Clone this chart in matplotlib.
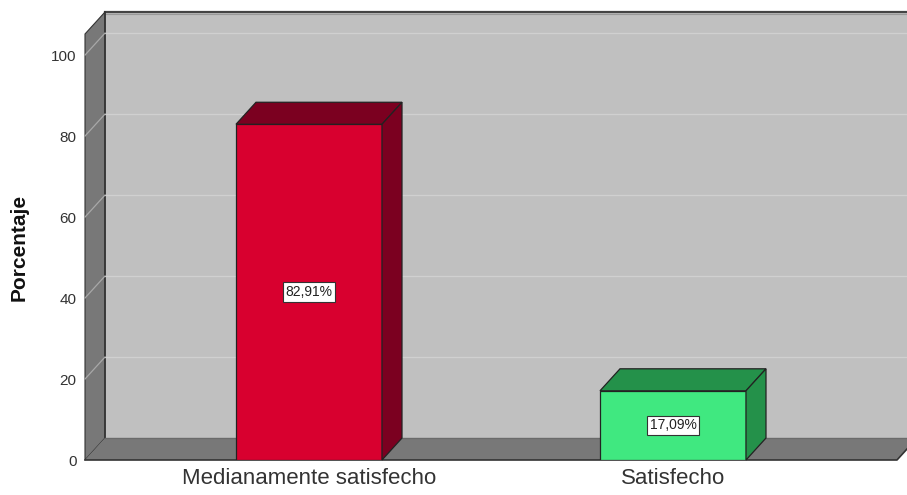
import matplotlib.pyplot as plt
from matplotlib.patches import Polygon

categories = ['Medianamente satisfecho', 'Satisfecho']
percent = [82.91, 17.09]
bar_labels = ['82,91%', '17,09%']
yticks = [0, 20, 40, 60, 80, 100]

front_colors = ['#d8002f', '#40e880']
dark_colors = ['#7b0020', '#24914a']

plt.rcParams['font.family'] = ['Liberation Sans', 'DejaVu Sans']

W, H = 907, 495
fig = plt.figure(figsize=(W / 100, H / 100), dpi=100)
# front plane of the 3d box, in pixels
left, right, bottom, top = 85, 897, 460, 34
ax = fig.add_axes([left / W, 1 - bottom / H, (right - left) / W, (bottom - top) / H])

xpx = 364.0          # pixels per category
x0 = 309             # pixel of first category
ymax = 105.2
xl = (left - x0) / xpx
xr = (right - x0) / xpx
ax.set_xlim(xl, xr)
ax.set_ylim(0, ymax)
ypx = (bottom - top) / ymax

dx = 20 / xpx
dy = 22 / ypx

wall = '#c0c0c0'
side = '#787878'

# back wall
ax.add_patch(Polygon([(xl + dx, dy), (xr + dx + 0.2, dy), (xr + dx + 0.2, ymax + dy), (xl + dx, ymax + dy)],
                     closed=True, fc=wall, ec='none', clip_on=False, zorder=0))
ax.plot([xl + dx, xr + dx + 0.2], [ymax + dy, ymax + dy], color='#444444', lw=1.6, clip_on=False, zorder=1)
ax.plot([xl + dx, xr + dx + 0.2], [ymax + dy - 0.5, ymax + dy - 0.5], color='#999999', lw=0.8, clip_on=False, zorder=1)
# left side wall
ax.add_patch(Polygon([(xl, 0), (xl, ymax), (xl + dx, ymax + dy), (xl + dx, dy)],
                     closed=True, fc=side, ec='#333333', lw=0.8, clip_on=False, zorder=1))
ax.plot([xl + dx, xl + dx], [dy, ymax + dy], color='#333333', lw=1.2, clip_on=False, zorder=1)
# floor
ax.add_patch(Polygon([(xl, 0), (xr, 0), (xr + dx, dy), (xl + dx, dy)],
                     closed=True, fc=side, ec='none', clip_on=False, zorder=1))
ax.plot([xl + dx, xr + dx + 0.2], [dy, dy], color='#6a6a6a', lw=1.0, clip_on=False, zorder=1)
ax.plot([xl, xr, xr + dx], [0, 0, dy], color='#333333', lw=1.2, clip_on=False, zorder=3)

# grid lines on the walls
for v in yticks[1:]:
    ax.plot([xl + dx, xr + dx + 0.2], [v + dy, v + dy], color='#d0d0d0', lw=0.9, clip_on=False, zorder=1)
    ax.plot([xl, xl + dx], [v, v + dy], color='#a8a8a8', lw=0.9, clip_on=False, zorder=2)

# bars
bw = 146 / xpx
xs = list(range(len(categories)))
ax.bar(xs, percent, width=bw, color=front_colors, edgecolor='#222222', linewidth=0.9, zorder=4)
for x, v, dc, lab in zip(xs, percent, dark_colors, bar_labels):
    a, b = x - bw / 2, x + bw / 2
    ax.add_patch(Polygon([(a, v), (b, v), (b + dx, v + dy), (a + dx, v + dy)],
                         closed=True, fc=dc, ec='#222222', lw=0.9, zorder=4, clip_on=False))
    ax.add_patch(Polygon([(b, 0), (b + dx, dy), (b + dx, v + dy), (b, v)],
                         closed=True, fc=dc, ec='#222222', lw=0.9, zorder=4, clip_on=False))
    ax.text(x, v / 2, lab, ha='center', va='center', fontsize=10, color='#222222', zorder=5,
            bbox=dict(boxstyle='square,pad=0.2', fc='white', ec='#333333', lw=0.8))

for s in ax.spines.values():
    s.set_visible(False)
ax.set_yticks(yticks)
ax.set_yticklabels([str(t) for t in yticks], fontsize=11, color='#333333')
ax.set_xticks(xs)
ax.set_xticklabels(categories, fontsize=16, color='#333333')
ax.tick_params(axis='y', length=0, pad=6)
ax.tick_params(axis='x', length=0, pad=6)
ax.set_ylabel('Porcentaje', fontsize=15, fontweight='bold', color='#111111', labelpad=16)
ax.patch.set_visible(False)

fig.savefig('out.png', dpi=100)
